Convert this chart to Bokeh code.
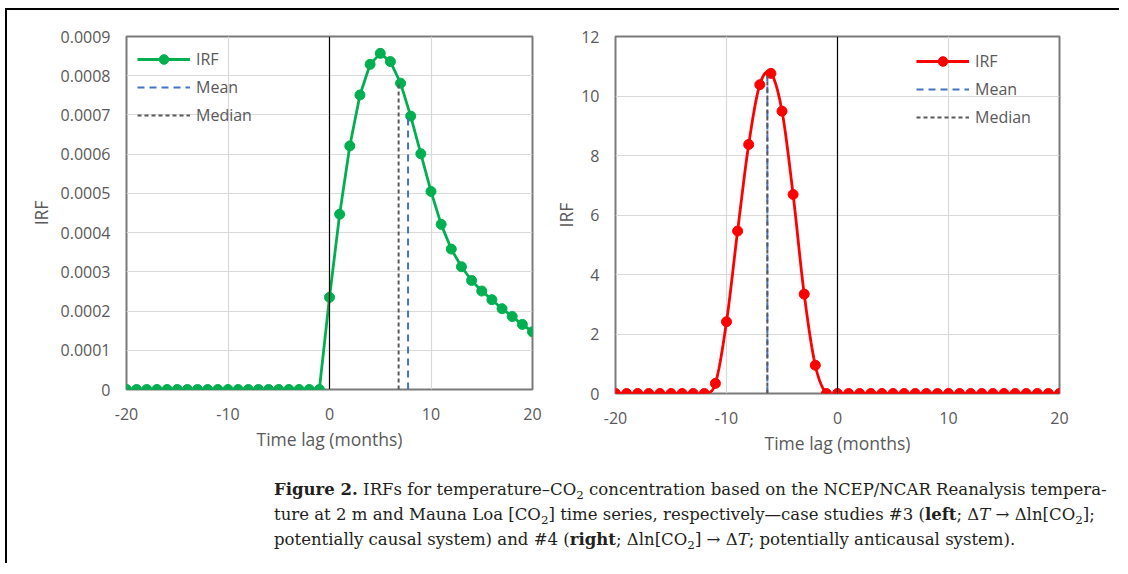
import numpy as np
from bokeh.plotting import figure
from bokeh.models import Legend, LegendItem, Span, FixedTicker, Div, Range1d, CustomJSTickFormatter
from bokeh.layouts import row, column
from bokeh.embed import file_html
from bokeh.resources import INLINE

# ---------------- data ----------------
lags = [-20, -19, -18, -17, -16, -15, -14, -13, -12, -11, -10, -9, -8, -7, -6, -5, -4, -3, -2, -1,
        0, 1, 2, 3, 4, 5, 6, 7, 8, 9, 10, 11, 12, 13, 14, 15, 16, 17, 18, 19, 20]

irf_left = [0, 0, 0, 0, 0, 0, 0, 0, 0, 0, 0, 0, 0, 0, 0, 0, 0, 0, 0, 0,
            0.000235, 0.000447, 0.000621, 0.000751, 0.000829, 0.000857, 0.000836, 0.000781,
            0.000697, 0.000601, 0.000505, 0.000421, 0.000358, 0.000313, 0.000278, 0.000251,
            0.000229, 0.000206, 0.000186, 0.000166, 0.000147]

irf_right = [0, 0, 0, 0, 0, 0, 0, 0, 0, 0.34, 2.41, 5.46, 8.37, 10.38, 10.76, 9.49, 6.69, 3.34, 0.95, 0,
             0, 0, 0, 0, 0, 0, 0, 0, 0, 0, 0, 0, 0, 0, 0, 0, 0, 0, 0, 0, 0]

left_mean, left_mean_top = 7.74, 0.000705
left_median, left_median_top = 6.81, 0.000781
right_mean, right_mean_top = -6.32, 10.66
right_median, right_median_top = -6.32, 10.66

x_ticks = [-20, -10, 0, 10, 20]
x_labels = ["-20", "-10", "0", "10", "20"]
left_y_ticks = [0, 0.0001, 0.0002, 0.0003, 0.0004, 0.0005, 0.0006, 0.0007, 0.0008, 0.0009]
left_y_labels = ["0", "0.0001", "0.0002", "0.0003", "0.0004", "0.0005", "0.0006", "0.0007", "0.0008", "0.0009"]
right_y_ticks = [0, 2, 4, 6, 8, 10, 12]
right_y_labels = ["0", "2", "4", "6", "8", "10", "12"]

legend_labels = ["IRF", "Mean", "Median"]
x_label = "Time lag (months)"
y_label = "IRF"

FONT = "Open Sans"
GRAY = "#595959"


def smooth(x, y, n=16):
    """Catmull-Rom rendering of a series (Excel-style smoothed line)."""
    x = np.asarray(x, float)
    y = np.asarray(y, float)
    xs, ys = [], []
    for i in range(len(x) - 1):
        x0, x1 = x[i], x[i + 1]
        y0, y1 = y[i], y[i + 1]
        ym = y[i - 1] if i > 0 else y0
        yp = y[i + 2] if i + 2 < len(y) else y1
        m0 = (y1 - ym) / 2.0
        m1 = (yp - y0) / 2.0
        t = np.linspace(0, 1, n, endpoint=False)
        h00 = 2 * t**3 - 3 * t**2 + 1
        h10 = t**3 - 2 * t**2 + t
        h01 = -2 * t**3 + 3 * t**2
        h11 = t**3 - t**2
        xs.extend(x0 + (x1 - x0) * t)
        ys.extend(h00 * y0 + h10 * m0 + h01 * y1 + h11 * m1)
    xs.append(x[-1])
    ys.append(y[-1])
    return xs, ys


def make_panel(width, height, borders, y_range, y_ticks, y_labels, series, color, smooth_line,
               mean, mean_top, median, median_top, legend_loc, legend_margin, y_label_standoff):
    p = figure(width=width, height=height, output_backend="svg", toolbar_location=None,
               x_range=Range1d(-20, 20), y_range=Range1d(*y_range),
               min_border_top=borders[0], min_border_right=borders[1],
               min_border_bottom=borders[2], min_border_left=borders[3])
    p.background_fill_color = "white"
    p.border_fill_color = "white"
    p.outline_line_color = "#7a7a7a"
    p.outline_line_width = 2

    for ax in (p.xaxis, p.yaxis):
        ax.axis_line_color = None
        ax.major_tick_line_color = None
        ax.minor_tick_line_color = None
        ax.major_tick_out = 0
        ax.major_tick_in = 0
        ax.minor_tick_out = 0
        ax.minor_tick_in = 0
        ax.major_label_text_color = GRAY
        ax.major_label_text_font = FONT
        ax.major_label_text_font_size = "16px"
        ax.axis_label_text_color = GRAY
        ax.axis_label_text_font = FONT
        ax.axis_label_text_font_size = "17.5px"
        ax.axis_label_text_font_style = "normal"
    p.xaxis.ticker = FixedTicker(ticks=x_ticks)
    p.yaxis.ticker = FixedTicker(ticks=y_ticks)
    p.xaxis.formatter = CustomJSTickFormatter(args=dict(labels=x_labels), code="return labels[index];")
    p.yaxis.formatter = CustomJSTickFormatter(args=dict(labels=y_labels), code="return labels[index];")
    p.xaxis.major_label_standoff = 18
    p.yaxis.major_label_standoff = 16
    p.xaxis.axis_label = x_label
    p.yaxis.axis_label = y_label
    p.xaxis.axis_label_standoff = 4
    p.yaxis.axis_label_standoff = y_label_standoff

    p.xgrid.grid_line_color = "#d9d9d9"
    p.ygrid.grid_line_color = "#d9d9d9"
    p.xgrid.grid_line_width = 1.2
    p.ygrid.grid_line_width = 1.2

    p.add_layout(Span(location=0, dimension="height", line_color="black", line_width=1.2))

    if smooth_line:
        sx, sy = smooth(lags, series)
    else:
        sx, sy = lags, series
    ln = p.line(sx, sy, line_color=color, line_width=2.8)
    mk = p.scatter(lags, series, size=10, marker="circle", fill_color=color, line_color=color)

    mr = p.segment(x0=[mean], y0=[0], x1=[mean], y1=[mean_top], line_color="#4472C4",
                   line_width=2, line_dash="7 5")
    md = p.segment(x0=[median], y0=[0], x1=[median], y1=[median_top], line_color=GRAY,
                   line_width=2, line_dash="4 3")

    legend = Legend(items=[LegendItem(label=legend_labels[0], renderers=[ln, mk]),
                           LegendItem(label=legend_labels[1], renderers=[mr]),
                           LegendItem(label=legend_labels[2], renderers=[md])],
                    location=legend_loc)
    legend.margin = legend_margin
    legend.padding = 0
    legend.spacing = 4
    legend.glyph_width = 53
    legend.glyph_height = 24
    legend.label_standoff = 6
    legend.label_text_font = FONT
    legend.label_text_font_size = "16px"
    legend.label_text_color = GRAY
    legend.background_fill_alpha = 0
    legend.border_line_color = None
    p.add_layout(legend)
    return p


p1 = make_panel(544, 454, (26, 19, 75, 119), (0, 0.0009), left_y_ticks, left_y_labels,
                irf_left, "#00B050", False, left_mean, left_mean_top, left_median, left_median_top,
                "top_left", 11, 5)
p2 = make_panel(558, 458, (25, 50, 75, 64), (0, 12), right_y_ticks, right_y_labels,
                irf_right, "#FF0000", True, right_mean, right_mean_top, right_median, right_median_top,
                (301, 264), 0, 0)

SUB = "<span style='font-size:0.72em; position:relative; top:0.3em; line-height:0;'>2</span>"
caption_html = (
    f"<b>Figure 2.</b> IRFs for temperature–CO{SUB} concentration based on the NCEP/NCAR Reanalysis tempera-<br>"
    f"ture at 2 m and Mauna Loa [CO{SUB}] time series, respectively—case studies #3 (<b>left</b>; "
    f"Δ<i>T</i> → Δln[CO{SUB}];<br>"
    f"potentially causal system) and #4 (<b>right</b>; Δln[CO{SUB}] → Δ<i>T</i>; potentially anticausal system)."
)
caption = Div(text=caption_html, width=845, height=86, margin=(9, 0, 0, 267),
              styles={"font-family": "'DejaVu Serif', serif",
                      "font-size": "16.55px", "line-height": "24px", "color": "#231f20",
                      "white-space": "nowrap"})

layout = column(row(p1, p2), caption, margin=(8, 0, 0, 5),
                styles={"border-top": "2px solid black", "border-left": "2px solid black"})

open("out.html", "w").write(file_html(layout, INLINE))
